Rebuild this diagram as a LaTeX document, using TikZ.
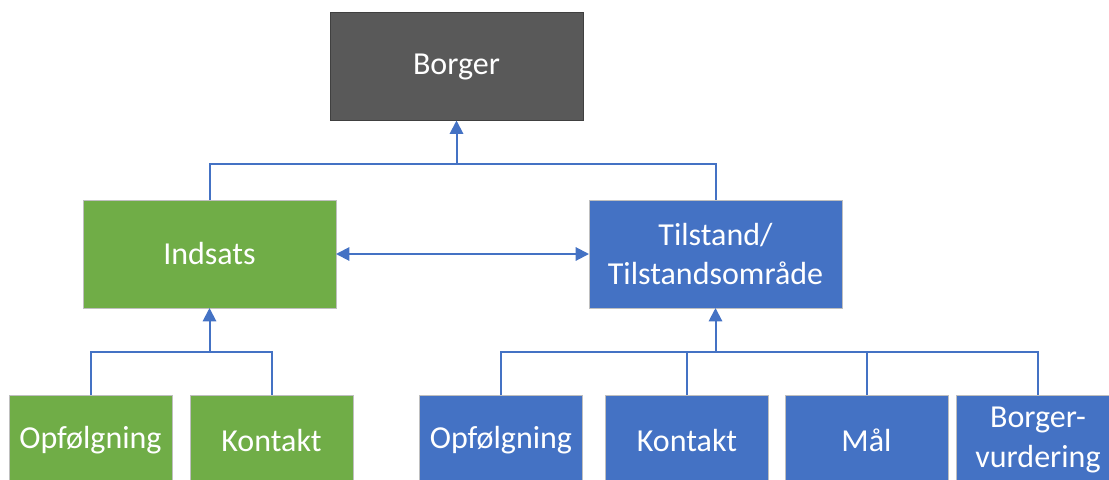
\documentclass[tikz,border=0pt]{standalone}
\usepackage{fontspec}
\setmainfont{Carlito}
\usetikzlibrary{arrows.meta}

\definecolor{boxgray}{HTML}{595959}
\definecolor{boxgreen}{HTML}{70AD47}
\definecolor{boxblue}{HTML}{4472C4}

\tikzset{
  box/.style={draw=white!75!black,line width=0.6pt,text=white,align=center,
    font=\fontsize{24}{29.5}\selectfont,inner sep=0pt,outer sep=0pt},
  bigbox/.style={box,minimum width=189.75pt,minimum height=81pt},
  smallbox/.style={box,minimum width=122.25pt,minimum height=67.5pt},
  link/.style={draw=boxblue,line width=1.5pt},
}

\begin{document}
\begin{tikzpicture}[x=0.75pt,y=-0.75pt,line cap=butt,line join=miter,>={Triangle[width=10pt,length=10pt]}]
        \useasboundingbox (0,0) rectangle (1109,479);
        \clip (0,0) rectangle (1109,479);
        % top level
        \node[bigbox,fill=boxgray,draw=black!75] (borger) at (456.5,66.5) {Borger};
        % second level
        \node[bigbox,fill=boxgreen] (indsats) at (209.5,254) {Indsats};
        \node[bigbox,fill=boxblue] (tilstand) at (715.5,254) {Tilstand/\\Tilstandsområde};
        % bottom level
        \node[smallbox,fill=boxgreen] (iopf) at (90.5,440) {Opfølgning};
        \node[smallbox,fill=boxgreen] (ikont) at (271.5,440) {Kontakt};
        \node[smallbox,fill=boxblue] (topf) at (501,440) {Opfølgning};
        \node[smallbox,fill=boxblue] (tkont) at (687,440) {Kontakt};
        \node[smallbox,fill=boxblue] (tmaal) at (866.5,440) {Mål};
        \node[smallbox,fill=boxblue] (tvurd) at (1038,440) {Borger-\\vurdering};
        % connectors
        \coordinate (topbus) at (456.5,164);
        \draw[link] (indsats.north) -- ++(0,-36) -| (tilstand.north);
        \draw[link,->] (topbus) -- (borger.south);
        \draw[link,<->] (indsats.east) -- (tilstand.west);
        \draw[link] (iopf.north) -- ++(0,-43) -| (ikont.north);
        \draw[link,->] (indsats.south |- 0,352) -- (indsats.south);
        \draw[link] (topf.north) -- ++(0,-43) -| (tvurd.north);
        \draw[link] (tkont.north) -- ++(0,-43);
        \draw[link] (tmaal.north) -- ++(0,-43);
        \draw[link,->] (tilstand.south |- 0,352) -- (tilstand.south);
\end{tikzpicture}
\end{document}
